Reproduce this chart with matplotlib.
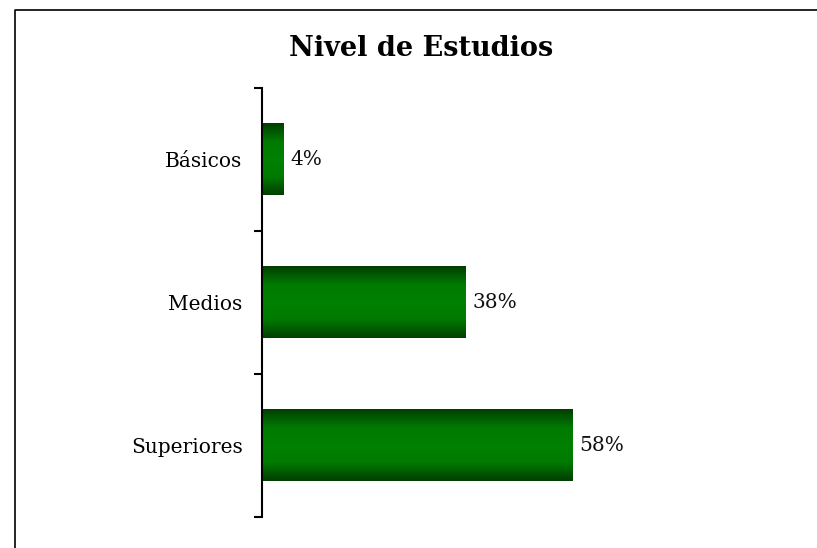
import matplotlib
matplotlib.use('Agg')
import matplotlib.pyplot as plt
import numpy as np
from matplotlib.colors import LinearSegmentedColormap
from matplotlib.lines import Line2D

categories = ['Básicos', 'Medios', 'Superiores']
values = [4, 38, 58]
value_labels = ['4%', '38%', '58%']
title = 'Nivel de Estudios'

plt.rcParams['font.family'] = ['DejaVu Serif']

fig = plt.figure(figsize=(8.17, 5.48), dpi=100)
ax = fig.add_axes([262 / 817, 1 - 517 / 548, 375 / 817, 429 / 548])

y = np.arange(len(categories))
bars = ax.barh(y, values, height=0.5, color='none', edgecolor='none')

# vertical gradient: dark at edges, bright green in the middle
cmap = LinearSegmentedColormap.from_list('g', ['#003f00', '#007a00', '#008000', '#007a00', '#003f00'])
grad = np.linspace(0, 1, 64).reshape(-1, 1)
for bar in bars:
    x0, y0 = bar.get_x(), bar.get_y()
    w, h = bar.get_width(), bar.get_height()
    ax.imshow(grad, cmap=cmap, aspect='auto', extent=(x0, x0 + w, y0, y0 + h),
              interpolation='bicubic', zorder=2)

for bar, lab in zip(bars, value_labels):
    ax.text(bar.get_width() + 1.3, bar.get_y() + bar.get_height() / 2, lab,
            va='center', ha='left', fontsize=14.5, color='#111111')

ax.set_xlim(0, 70)
ax.set_ylim(len(categories) - 0.5, -0.5)
ax.set_yticks(np.arange(len(categories) + 1) - 0.5)
ax.set_yticklabels([])
ax.set_yticks(y, minor=True)
ax.set_yticklabels(categories, minor=True, fontsize=14.5)
ax.tick_params(axis='y', which='major', direction='out', length=6, width=1.5)
ax.tick_params(axis='y', which='minor', length=0, pad=14)
ax.set_xticks([])
for s in ['top', 'right', 'bottom']:
    ax.spines[s].set_visible(False)
ax.spines['left'].set_linewidth(1.5)

fig.text(421 / 817, 1 - 48 / 548, title, ha='center', va='center',
         fontsize=19.5, fontweight='bold')

# outer chart border (left and top edges visible)
x_b, y_b = 14.5 / 817, 1 - 10 / 548
fig.add_artist(Line2D([x_b, x_b, 1.0], [0.0, y_b, y_b], transform=fig.transFigure,
                      color='black', linewidth=1.2))

fig.savefig('out.png', dpi=100)
